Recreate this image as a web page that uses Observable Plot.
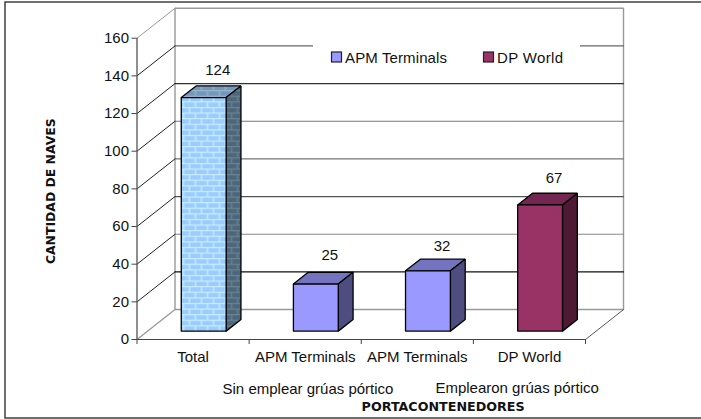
<!DOCTYPE html>
<html><head><meta charset="utf-8">
<script src="https://cdn.jsdelivr.net/npm/d3@7"></script>
<script src="https://cdn.jsdelivr.net/npm/@observablehq/plot@0.6"></script>
<style>
html,body{margin:0;padding:0;background:#fff;overflow:hidden}
svg{display:block;position:absolute;left:0;top:0}
</style></head><body>
<div id="chart"></div>
<script>
// ---- data ----
const categories = ["Total", "APM Terminals", "APM Terminals", "DP World"];
const values = [124, 25, 32, 67];
const groups = ["Sin emplear grúas pórtico", "Emplearon grúas pórtico"];
const yTicks = [0, 20, 40, 60, 80, 100, 120, 140, 160];
const legendLabels = ["APM Terminals", "DP World"];
const yTitle = "CANTIDAD DE NAVES";
const xTitle = "PORTACONTENEDORES";

// ---- style and 3D projection ----
const font = "'Liberation Sans', Arial, sans-serif";
const titleFont = "'DejaVu Sans', sans-serif";
const depthX = 0.339, depthY = 15.9;          // wall depth in scale units
const frontD = 0.28, backD = 0.67;            // bar depth inside the box
const barInset = 0.30, barW = 0.40;
const faces = [
  {front:"url(#brickF)", top:"url(#brickT)", side:"url(#brickS)"},
  {front:"#9999FF", top:"#7373BF", side:"#4D4D80"},
  {front:"#9999FF", top:"#7373BF", side:"#4D4D80"},
  {front:"#993366", top:"#732650", side:"#4D1933"}
];
const gridColor = {0:"#999",20:"#111",40:"#888",60:"#555",80:"#777",100:"#777",120:"#333",140:"#666",160:"#888"};
const labelDy = [-16,-17,-13,-15];
const p = (x, y, d) => ({x: x + d*depthX, y: y + d*depthY});

function poly(points, fill, stroke, strokeWidth){
  return Plot.line([...points, points[0]], {x:"x", y:"y", fill, stroke, strokeWidth, strokeLinejoin:"miter", curve:"linear"});
}

const barMarks = values.flatMap((v,i) => {
  const x0 = i+barInset, x1 = x0+barW, f = faces[i];
  return [
    poly([p(x0,v,frontD),p(x1,v,frontD),p(x1,v,backD),p(x0,v,backD)], f.top, "#000", 1.3),
    poly([p(x1,0,frontD),p(x1,0,backD),p(x1,v,backD),p(x1,v,frontD)], f.side, "#000", 1.3),
    poly([p(x0,0,frontD),p(x1,0,frontD),p(x1,v,frontD),p(x0,v,frontD)], f.front, "#000", 1.3)
  ];
});

function defs(){
  const d = d3.create("svg:defs");
  const brick = (id, base, mortar) => {
    const pt = d.append("pattern").attr("id",id).attr("patternUnits","userSpaceOnUse")
      .attr("width",12).attr("height",11.2);
    pt.append("rect").attr("width",12).attr("height",11.2).attr("fill",base);
    pt.append("path").attr("fill","none").attr("stroke",mortar).attr("stroke-width",1.3)
      .attr("d","M0 0.6H12M0 6.2H12M3 0.6V6.2M9 6.2V11.8");
  };
  brick("brickF","#99CCFF","#CCEEFF");
  brick("brickT","#7397BF","#96B8C4");
  brick("brickS","#4D6680","#6A8488");
  return d.node();
}

function legend(){
  const g = d3.create("svg:g");
  g.append("rect").attr("x",313).attr("y",44).attr("width",267).attr("height",36).attr("fill","#fff");
  [[331,345,"#9999FF"],[483,497,"#993366"]].forEach(([sx,tx,c],i)=>{
    g.append("rect").attr("x",sx+.5).attr("y",52).attr("width",10).attr("height",10)
      .attr("fill",c).attr("stroke","#222").attr("stroke-width",1.2);
    g.append("text").attr("x",tx).attr("y",62.5).text(legendLabels[i])
      .attr("text-anchor","start")
      .attr("font-family",font).attr("font-size",15).attr("fill","#111")
      .attr("textLength",i?66:102).attr("lengthAdjust","spacing");
  });
  return g.node();
}

const plot = Plot.plot({
  width:701, height:419,
  marginLeft:136.5, marginRight:116, marginTop:37.7, marginBottom:80,
  style:{background:"#fff", overflow:"visible", fontFamily:font},
  x:{domain:[0,4]},
  y:{domain:[0,160]},
  marks:[
    defs,
    // outer frame
    Plot.frame({insetLeft:-132, insetTop:-36.2, insetBottom:-78.5, insetRight:-125, stroke:"#333", strokeWidth:1.4}),
    // back wall
    poly([p(0,0,1),p(4,0,1),p(4,160,1),p(0,160,1)], "#fff", "#999", 1.4),
    // back grid lines
    ...yTicks.slice(1,-1).map(t => Plot.line([p(0,t,1),p(4,t,1)],{x:"x",y:"y",stroke:gridColor[t],strokeWidth:1.2})),
    // side wall diagonals
    ...yTicks.slice(1).map(t => Plot.line([p(0,t,0),p(0,t,1)],{x:"x",y:"y",stroke:t===160?"#999":"#222",strokeWidth:1})),
    // floor
    Plot.line([p(0,0,0),p(0,0,1)],{x:"x",y:"y",stroke:"#999",strokeWidth:1.3}),
    Plot.line([p(4,0,0),p(4,0,1)],{x:"x",y:"y",stroke:"#555",strokeWidth:1}),
    legend,
    ...barMarks,
    // axes
    Plot.ruleY([0],{x1:0,x2:4,stroke:"#444",strokeWidth:1.2}),
    Plot.ruleX([0],{y1:0,y2:160,stroke:"#444",strokeWidth:1.2}),
    Plot.axisY({ticks:yTicks, tickSize:5, tickPadding:3, fontSize:15, label:null, stroke:"#444", fill:"#111"}),
    Plot.axisX({ticks:[0,1,2,3,4], tickSize:5, tickFormat:()=>"", label:null, stroke:"#444"}),
    // category labels
    ...categories.map((c,i)=>Plot.text([c],{x:[i+0.5], y:[0], text:d=>d, dy:18, fontSize:15, fill:"#111"})),
    // value labels
    ...values.map((v,i)=>Plot.text([v],{x:[i+0.72], y:[v+backD*depthY], text:d=>String(d), dy:labelDy[i], fontSize:15, fill:"#111"})),
    // group labels
    Plot.text([groups[0]],{x:[1.525], y:[0], text:d=>d, dy:50, fontSize:15, fill:"#111"}),
    Plot.text([groups[1]],{x:[3.39], y:[0], text:d=>d, dy:49, fontSize:15, fill:"#111"}),
    // titles
    Plot.text([yTitle],{frameAnchor:"top-left", dx:-90.5, dy:153, text:d=>d, rotate:-90, textAnchor:"middle", fontFamily:titleFont, fontWeight:"bold", fontSize:12.4, fill:"#111"}),
    Plot.text([xTitle],{x:[2.73], y:[0], text:d=>d, dy:67, fontFamily:titleFont, fontWeight:"bold", fontSize:12.7, fill:"#111"})
  ]
});
document.getElementById("chart").append(plot);
</script>
</body></html>
